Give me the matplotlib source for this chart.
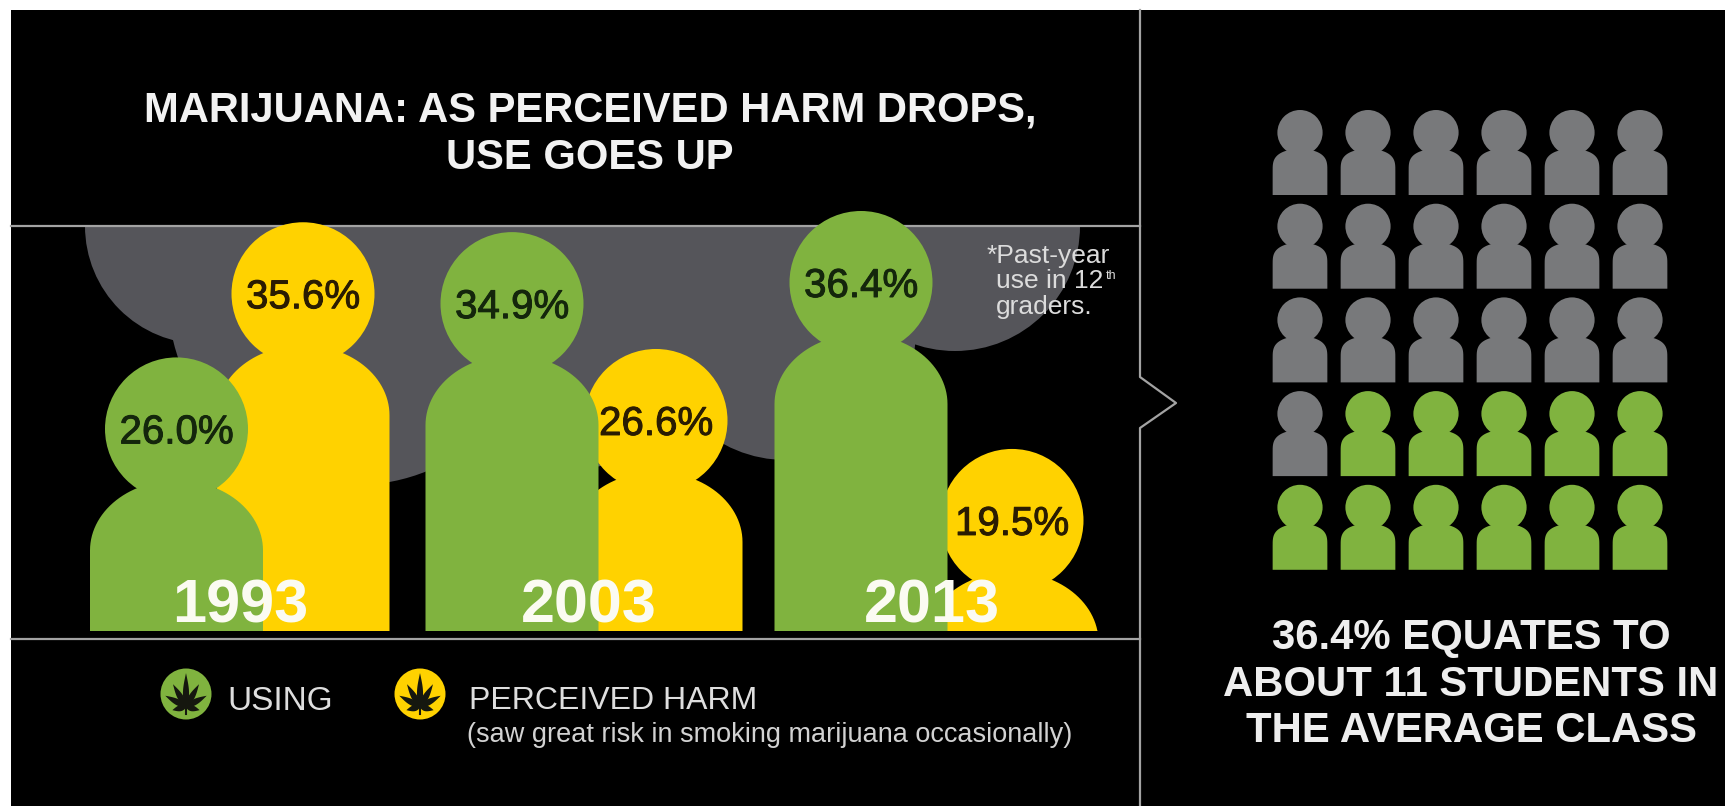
#!/usr/bin/env python3
"""Draw the perceived harm vs. use infographic with person-shaped bars."""
import numpy as np

import matplotlib
matplotlib.use("Agg")
import matplotlib.pyplot as plt
import matplotlib.patheffects as pe
from matplotlib.patches import Circle, Polygon, Rectangle

plt.rcParams["font.family"] = ["Liberation Sans", "DejaVu Sans"]

YEARS = ["1993", "2003", "2013"]
USING = [26.0, 34.9, 36.4]
HARM = [35.6, 26.6, 19.5]
CLASS_SIZE = 30
CLASS_USING = 11

TITLE = "MARIJUANA: AS PERCEIVED HARM DROPS,\nUSE GOES UP"
CLASS_NOTE = ["36.4% EQUATES TO", "ABOUT 11 STUDENTS IN", "THE AVERAGE CLASS"]

GREEN = "#80b33f"
YELLOW = "#ffd200"
CLOUD = "#55555a"
LINE = "#a3a3a3"
ICON_GREY = "#78797b"

W, H = 1725, 806
BASE_Y = 631

# layout in figure pixels
USING_X = [176.5, 512, 861]
HARM_X = [303, 656, 1012]
YEAR_X = [240, 589, 932]


def person(ax, cx, top, base, color, scale=1.0, shoulder=1.0, zorder=3):
    """Head circle plus a domed body, 173 px wide at scale 1."""
    r = 71.5 * scale
    half = 86.5 * scale
    dome_y = top + 193 * scale
    t = np.linspace(np.pi, 0, 60)
    xs = cx + half * np.cos(t)
    ys = np.minimum(dome_y - 70 * scale * np.sin(t) ** shoulder, base)
    pts = np.column_stack([
        np.r_[cx - half, xs, cx + half],
        np.r_[base, ys, base],
    ])
    ax.add_patch(Polygon(pts, closed=True, fc=color, ec="none", zorder=zorder))
    ax.add_patch(Circle((cx, top + r), r, fc=color, ec="none", zorder=zorder))


def leaf(ax, cx, cy, r, zorder=6):
    """Small black seven-point leaf for the legend badges."""
    angles = [0, 30, -30, 62, -62, 104, -104]
    lengths = [1.32, 1.02, 1.02, 0.92, 0.92, 0.55, 0.55]
    root = np.array([cx, cy + 0.5 * r])
    s = np.linspace(0, 1, 24)
    for ang, ln in zip(angles, lengths):
        along = s * ln * r
        across = 0.12 * r * np.sin(np.pi * s ** 0.75)
        a = np.radians(ang)
        ux, uy = np.sin(a), -np.cos(a)
        px, py = -uy, ux
        left = root + np.column_stack([along * ux + across * px, along * uy + across * py])
        right = root + np.column_stack([along * ux - across * px, along * uy - across * py])
        ax.add_patch(Polygon(np.vstack([left, right[::-1]]), fc="#15170f", ec="none", zorder=zorder))
    ax.plot([cx, cx], [root[1], cy + 0.8 * r], color="#15170f", lw=1.5, zorder=zorder)


def value_label(ax, x, y, value, color):
    ax.text(x, y, f"{value:.1f}%", color=color, fontsize=29, ha="center", va="center", zorder=6,
            path_effects=[pe.withStroke(linewidth=0.7, foreground=color)])


def main():
    fig = plt.figure(figsize=(W / 100, H / 100), dpi=100, facecolor="white")

    # pixel space for the furniture
    ax = fig.add_axes([0, 0, 1, 1])
    ax.set_xlim(0, W)
    ax.set_ylim(H, 0)
    ax.axis("off")

    # percent scale for the person heights, 14.08 px per point
    scale_ax = fig.add_axes([0, 0, 1, 1], sharex=ax)
    scale_ax.set_ylim(6.57 - (H - BASE_Y) / 14.08, 6.57 + BASE_Y / 14.08)
    scale_ax.axis("off")
    scale_ax.patch.set_alpha(0)

    def top_of(value):
        disp = scale_ax.transData.transform((0, value))
        return ax.transData.inverted().transform(disp)[1]

    ax.add_patch(Rectangle((11, 10), W - 11, H - 10, fc="black", ec="none", zorder=0))

    # smoke cloud behind the 1993-2013 groups, cut off at the top rule
    clip = Rectangle((11, 226), 1127, 413, transform=ax.transData)
    for cx, cy, r in [(203, 226, 118), (356, 297, 188), (560, 260, 210), (786, 330, 130), (955, 226, 125)]:
        c = Circle((cx, cy), r, fc=CLOUD, ec="none", zorder=1)
        ax.add_patch(c)
        c.set_clip_path(clip)

    ax.plot([11, 1140], [226, 226], color=LINE, lw=1.6, zorder=2)
    ax.plot([11, 1140], [639, 639], color=LINE, lw=1.6, zorder=2)
    ax.plot([1140, 1140, 1176, 1140, 1140], [10, 377, 403, 428, H], color=LINE, lw=1.6, zorder=2)

    ax.text(590, 134, TITLE, color="#f2f2f2", fontsize=30.1, fontweight="bold",
            ha="center", va="center", linespacing=1.24, zorder=5)

    for i, year in enumerate(YEARS):
        top = top_of(HARM[i])
        person(ax, HARM_X[i], top, BASE_Y, YELLOW, zorder=3)
        value_label(ax, HARM_X[i], top + 75, HARM[i], "#2a1c02")
    for i, year in enumerate(YEARS):
        top = top_of(USING[i])
        person(ax, USING_X[i], top, BASE_Y, GREEN, zorder=4)
        value_label(ax, USING_X[i], top + 75, USING[i], "#14260c")
        ax.text(YEAR_X[i], 607, year, color="#fbfbf2", fontsize=44, fontweight="bold",
                ha="center", va="center", zorder=7)

    # footnote with a raised "th"
    note = dict(color="#dcdcdc", fontsize=19, va="center", zorder=6)
    ax.text(987, 256, "*Past-year", **note)
    ax.text(996, 281, "use in 12", **note)
    ax.text(1106, 276, "th", color="#dcdcdc", fontsize=9, va="center", zorder=6)
    ax.text(996, 307, "graders.", **note)

    # legend
    for cx, color in [(186, GREEN), (420, YELLOW)]:
        ax.add_patch(Circle((cx, 694), 25.5, fc=color, ec="none", zorder=5))
        leaf(ax, cx, 694, 25.5)
    ax.text(227, 701, "USING", color="#dedede", fontsize=24, va="center", zorder=5)
    ax.text(469, 701, "PERCEIVED HARM", color="#dedede", fontsize=23, va="center", zorder=5)
    ax.text(467, 735, "(saw great risk in smoking marijuana occasionally)", color="#d2d2d2",
            fontsize=19.5, va="center", zorder=5)

    # one icon per student, filled from the bottom right
    icon_scale = 54.7 / 173
    for n in range(CLASS_SIZE):
        row, col = divmod(n, 6)
        color = GREEN if n >= CLASS_SIZE - CLASS_USING else ICON_GREY
        person(ax, 1300 + col * 68, 110 + row * 93.7, 195 + row * 93.7, color,
               scale=icon_scale, shoulder=0.6)

    for y, line in zip([638, 685, 731], CLASS_NOTE):
        ax.text(1471, y, line, color="#eeeeee", fontsize=30.2, fontweight="bold",
                ha="center", va="center", zorder=5)

    fig.savefig("out.png", dpi=100, facecolor="white")
    plt.close(fig)


if __name__ == "__main__":
    main()
